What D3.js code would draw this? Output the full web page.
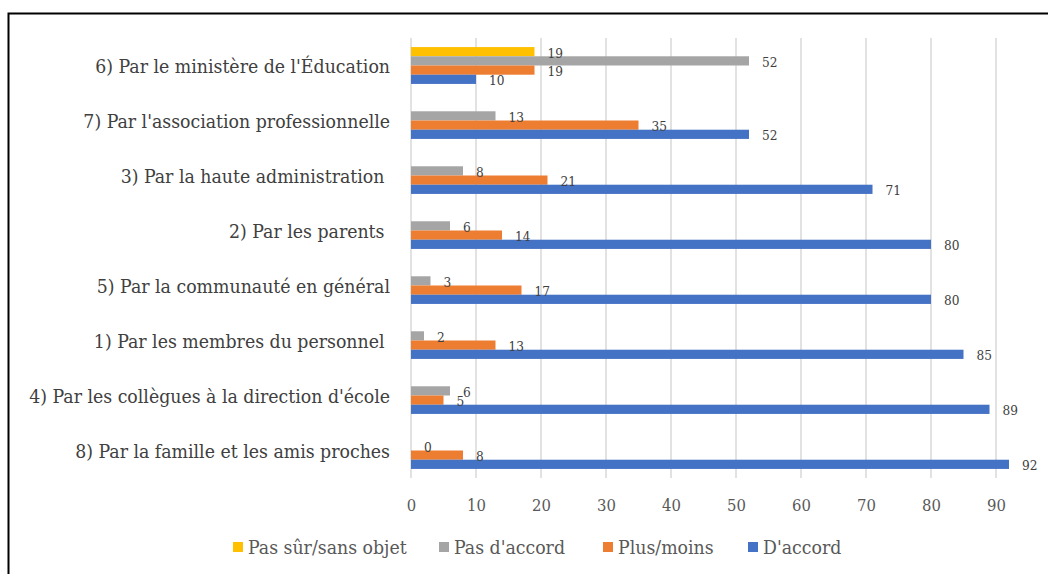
<!DOCTYPE html>
<html>
<head>
<meta charset="utf-8">
<script src="https://d3js.org/d3.v7.min.js"></script>
<style>
  body { margin: 0; background: #fff; }
  svg text { font-stretch: condensed; }
</style>
</head>
<body>
<div id="chart"></div>
<script>
// chart data, top category first
var categories = [
  "6) Par le ministère de l'Éducation",
  "7) Par l'association professionnelle",
  "3) Par la haute administration ",
  "2) Par les parents ",
  "5) Par la communauté en général",
  "1) Par les membres du personnel ",
  "4) Par les collègues à la direction d'école",
  "8) Par la famille et les amis proches"
];
var seriesNames = ["Pas sûr/sans objet", "Pas d'accord", "Plus/moins", "D'accord"];
var seriesColors = ["#ffc000", "#a5a5a5", "#ed7d31", "#4472c4"];
var pasSur = [19, null, null, null, null, null, null, null];
var pasAccord = [52, 13, 8, 6, 3, 2, 6, 0];
var plusMoins = [19, 35, 21, 14, 17, 13, 5, 8];
var dAccord = [10, 52, 71, 80, 80, 85, 89, 92];
var xTicks = [0, 10, 20, 30, 40, 50, 60, 70, 80, 90];

var values = [pasSur, pasAccord, plusMoins, dAccord];

var W = 1048, H = 574;
var plot = {left: 411, right: 996, top: 38, bottom: 478};
var serif = "'DejaVu Serif Condensed', 'DejaVu Serif'";

var svg = d3.select("#chart").append("svg")
  .attr("width", W).attr("height", H);

// outer frame
svg.append("rect")
  .attr("x", 8.5).attr("y", 13.5)
  .attr("width", W + 10).attr("height", H + 10)
  .attr("fill", "none").attr("stroke", "#000").attr("stroke-width", 2);

var x = d3.scaleLinear().domain([0, 90]).range([plot.left, plot.right]);
var y0 = d3.scaleBand().domain(categories).range([plot.top, plot.bottom])
  .paddingInner(0.33).paddingOuter(0.165);
var y1 = d3.scaleBand().domain(seriesNames).range([0, y0.bandwidth()]);

// gridlines
svg.append("g").selectAll("line")
  .data(xTicks).enter().append("line")
  .attr("x1", function(d) { return x(d); })
  .attr("x2", function(d) { return x(d); })
  .attr("y1", plot.top).attr("y2", plot.bottom)
  .attr("stroke", "#d9d9d9").attr("stroke-width", 1.5);

// x axis labels
var xAxis = svg.append("g")
  .attr("transform", "translate(0," + (plot.bottom + 28) + ")")
  .call(d3.axisBottom(x).tickValues(xTicks).tickSize(0).tickPadding(0))
  .attr("font-family", serif);
xAxis.select(".domain").remove();
xAxis.selectAll("text")
  .attr("font-size", 16.5).attr("fill", "#595959")
  .attr("dy", "0.32em");

// category labels
svg.append("g").attr("font-family", serif).selectAll("text")
  .data(categories).enter().append("text")
  .attr("x", 390)
  .attr("y", function(d) { return y0(d) + y0.bandwidth() / 2 + 1; })
  .attr("text-anchor", "end")
  .attr("dominant-baseline", "central")
  .style("white-space", "pre")
  .attr("font-size", 19.3).attr("fill", "#404040")
  .text(function(d) { return d; });

// bars and value labels
var rows = [];
categories.forEach(function(c, i) {
  seriesNames.forEach(function(s, j) {
    if (values[j][i] != null) rows.push({cat: c, series: s, idx: j, value: values[j][i]});
  });
});

svg.append("g").selectAll("rect")
  .data(rows).enter().append("rect")
  .attr("x", x(0))
  .attr("y", function(d) { return y0(d.cat) + y1(d.series); })
  .attr("width", function(d) { return x(d.value) - x(0); })
  .attr("height", y1.bandwidth())
  .attr("fill", function(d) { return seriesColors[d.idx]; });

svg.append("g").attr("font-family", serif).selectAll("text")
  .data(rows).enter().append("text")
  .attr("x", function(d) { return x(d.value) + 13; })
  .attr("y", function(d) { return y0(d.cat) + y1(d.series) + y1.bandwidth() / 2 + 1; })
  .attr("dominant-baseline", "central")
  .attr("font-size", 13.5).attr("fill", "#404040")
  .text(function(d) { return d.value; });

// legend
var legendX = [233, 439, 603, 748];
var legend = svg.append("g").attr("font-family", serif).selectAll("g")
  .data(seriesNames).enter().append("g")
  .attr("transform", function(d, i) { return "translate(" + legendX[i] + ",542)"; });
legend.append("rect")
  .attr("width", 10).attr("height", 10)
  .attr("fill", function(d, i) { return seriesColors[i]; });
legend.append("text")
  .attr("x", 15).attr("y", 5.5)
  .attr("dominant-baseline", "central")
  .attr("font-size", 19.3).attr("fill", "#595959")
  .text(function(d) { return d; });
</script>
</body>
</html>
